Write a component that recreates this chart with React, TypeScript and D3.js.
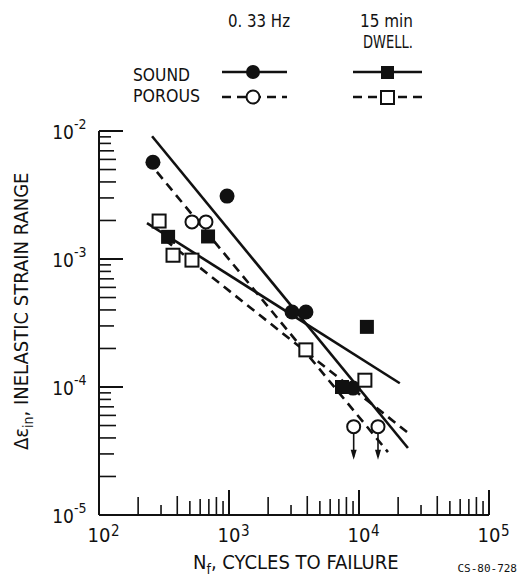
import React from "react";
import { scaleLog, line } from "d3";

// Fatigue data (Nf, inelastic strain range)
const sound033N = [260, 966, 3055, 3907, 9000];
const sound033E = [5.7e-3, 3.1e-3, 3.85e-4, 3.85e-4, 9.8e-5];
const porous033N = [519, 665, 9100, 14000];
const porous033E = [1.95e-3, 1.95e-3, 4.9e-5, 4.9e-5];
const sound15N = [340, 690, 7400, 11500];
const sound15E = [1.49e-3, 1.5e-3, 1.0e-4, 2.95e-4];
const porous15N = [290, 371, 519, 3900, 11100];
const porous15E = [1.98e-3, 1.07e-3, 0.98e-3, 1.95e-4, 1.13e-4];

// fitted lines: [start, end]
const sound033Fit = [[256, 9.1e-3], [23800, 3.34e-5]];
const sound15Fit = [[234, 1.91e-3], [20600, 1.07e-4]];
const porous033Fit = [[279, 4.79e-3], [16700, 3.1e-5]];
const porous15Fit = [[322, 1.41e-3], [23400, 4.45e-5]];

// run-outs (arrows) on the porous 0.33 Hz points
const runoutN = [9100, 14000];
const runoutE = [4.9e-5, 4.9e-5];

const xTicks = [1e2, 1e3, 1e4, 1e5];
const xTickExp = ["2", "3", "4", "5"];
const yTicks = [1e-5, 1e-4, 1e-3, 1e-2];
const yTickExp = ["-5", "-4", "-3", "-2"];
const minorSteps = [2, 3, 4, 5, 6, 7, 8, 9];

const FONT = "'DejaVu Sans Condensed', 'Liberation Sans Narrow', 'DejaVu Sans', sans-serif";
const INK = "#111";

function App() {
  const x = scaleLog().domain([1e2, 1e5]).range([99, 489]);
  const y = scaleLog().domain([1e-5, 1e-2]).range([515, 131]);

  const fitLine = line<number[]>()
    .x((d) => x(d[0]))
    .y((d) => y(d[1]));

  const xMinorLen: Record<number, number> = { 2: 18, 3: 10, 4: 19, 5: 14, 6: 16, 7: 16, 8: 18, 9: 14 };
  const yMinorLen: Record<number, number> = { 2: 17, 3: 15, 4: 17, 5: 17, 6: 17, 7: 15, 8: 12, 9: 12 };

  const xMinor: { v: number; k: number }[] = [];
  xTicks.slice(0, -1).forEach((d) => minorSteps.forEach((k) => xMinor.push({ v: d * k, k })));
  const yMinor: { v: number; k: number }[] = [];
  yTicks.slice(0, -1).forEach((d) => minorSteps.forEach((k) => yMinor.push({ v: d * k, k })));

  const dash = "9,6";

  return (
    <svg
      width={520}
      height={582}
      style={{ position: "absolute", left: 0, top: 0, background: "#fff" }}
      fontFamily={FONT}
      fill={INK}
    >
      {/* legend */}
      <text x={228} y={27} fontSize={18} textLength={62} lengthAdjust="spacingAndGlyphs">0. 33 Hz</text>
      <text x={360} y={27} fontSize={18} textLength={53} lengthAdjust="spacingAndGlyphs">15 min</text>
      <text x={363} y={48} fontSize={17} textLength={50} lengthAdjust="spacingAndGlyphs">DWELL.</text>
      <text x={133} y={81} fontSize={17} textLength={57} lengthAdjust="spacingAndGlyphs">SOUND</text>
      <text x={133} y={102} fontSize={17} textLength={67} lengthAdjust="spacingAndGlyphs">POROUS</text>
      <line x1={222} x2={287} y1={72} y2={72} stroke={INK} strokeWidth={2.5} />
      <circle cx={253} cy={72} r={7} fill={INK} />
      <line x1={222} x2={287} y1={97} y2={97} stroke={INK} strokeWidth={2.5} strokeDasharray={dash} />
      <circle cx={253} cy={97} r={6.5} fill="#fff" stroke={INK} strokeWidth={2} />
      <line x1={353} x2={422} y1={72} y2={72} stroke={INK} strokeWidth={2.5} />
      <rect x={381} y={66} width={13} height={13} fill={INK} />
      <line x1={353} x2={422} y1={97} y2={97} stroke={INK} strokeWidth={2.5} strokeDasharray={dash} />
      <rect x={381} y={91} width={13} height={13} fill="#fff" stroke={INK} strokeWidth={2} />

      {/* axes */}
      <line x1={99} x2={99} y1={y(1e-2)} y2={y(1e-5)} stroke={INK} strokeWidth={2} />
      <line x1={99} x2={x(1e5)} y1={515} y2={515} stroke={INK} strokeWidth={2} />
      {yTicks.map((t) => (
        <line key={"ym" + t} x1={99} x2={123} y1={y(t)} y2={y(t)} stroke={INK} strokeWidth={2} />
      ))}
      {yMinor.map((t) => (
        <line key={"yn" + t.v} x1={99} x2={99 + yMinorLen[t.k]} y1={y(t.v)} y2={y(t.v)} stroke={INK} strokeWidth={1.6} />
      ))}
      {xTicks.slice(1).map((t) => (
        <line key={"xm" + t} x1={x(t)} x2={x(t)} y1={515} y2={490} stroke={INK} strokeWidth={2} />
      ))}
      {xMinor.map((t) => (
        <line key={"xn" + t.v} x1={x(t.v)} x2={x(t.v)} y1={515} y2={515 - xMinorLen[t.k]} stroke={INK} strokeWidth={1.6} />
      ))}
      {yTicks.map((t) => (
        <text key={"yl" + t} x={74} y={y(t) + 8} fontSize={19} textAnchor="end">
          10
        </text>
      ))}
      {yTicks.map((t, i) => (
        <text key={"ye" + t} x={74} y={y(t) - 2} fontSize={14}>
          {yTickExp[i]}
        </text>
      ))}
      {xTicks.map((t) => (
        <text key={"xl" + t} x={x(t)} y={542} fontSize={20} textAnchor="middle">
          10
        </text>
      ))}
      {xTicks.map((t, i) => (
        <text key={"xe" + t} x={x(t) + 12} y={536} fontSize={15}>
          {xTickExp[i]}
        </text>
      ))}

      {/* axis titles */}
      <text x={193} y={569} fontSize={20}>
        N<tspan fontSize={14} dy={5}>f</tspan>
        <tspan dy={-5}>, CYCLES TO FAILURE</tspan>
      </text>
      <text transform="translate(28,450) rotate(-90)" fontSize={20}>
        Δε<tspan fontSize={14} dy={5}>in</tspan>
        <tspan dy={-5}>, INELASTIC STRAIN RANGE</tspan>
      </text>
      <text x={517} y={572} fontSize={11} textAnchor="end" fontFamily="'DejaVu Sans Mono', monospace">
        CS-80-728
      </text>

      {/* fitted lines */}
      <path d={fitLine(sound033Fit) || ""} stroke={INK} strokeWidth={2.6} fill="none" />
      <path d={fitLine(sound15Fit) || ""} stroke={INK} strokeWidth={2.6} fill="none" />
      <path d={fitLine(porous033Fit) || ""} stroke={INK} strokeWidth={2.6} fill="none" strokeDasharray={dash} />
      <path d={fitLine(porous15Fit) || ""} stroke={INK} strokeWidth={2.6} fill="none" strokeDasharray={dash} />

      {/* run-out arrows */}
      {runoutN.map((n, i) => {
        const cx = x(n);
        const cy = y(runoutE[i]);
        return (
          <g key={"ar" + i}>
            <line x1={cx} x2={cx} y1={cy + 7} y2={cy + 30} stroke={INK} strokeWidth={1.6} />
            <path d={`M${cx - 3},${cy + 23} L${cx + 3},${cy + 23} L${cx},${cy + 33} Z`} fill={INK} />
          </g>
        );
      })}

      {/* markers */}
      {sound033N.map((n, i) => (
        <circle key={"s033" + i} cx={x(n)} cy={y(sound033E[i])} r={7.5} fill={INK} />
      ))}
      {porous033N.map((n, i) => (
        <circle key={"p033" + i} cx={x(n)} cy={y(porous033E[i])} r={6.5} fill="#fff" stroke={INK} strokeWidth={2} />
      ))}
      {sound15N.map((n, i) => (
        <rect key={"s15" + i} x={x(n) - 7} y={y(sound15E[i]) - 7} width={14} height={14} fill={INK} />
      ))}
      {porous15N.map((n, i) => (
        <rect
          key={"p15" + i}
          x={x(n) - 6.5}
          y={y(porous15E[i]) - 6.5}
          width={13}
          height={13}
          fill="#fff"
          stroke={INK}
          strokeWidth={2}
        />
      ))}
    </svg>
  );
}

export default App;
